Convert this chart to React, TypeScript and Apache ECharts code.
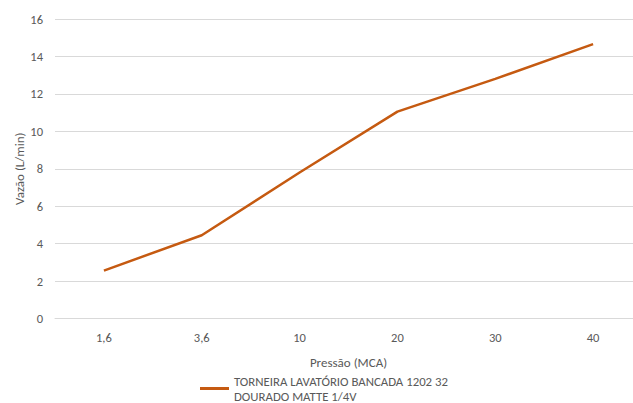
import React, { useEffect, useRef } from "react";
import * as echarts from "echarts";

const categories = ["1,6", "3,6", "10", "20", "30", "40"];
const flowValues = [2.56, 4.45, 7.8, 11.05, 12.8, 14.66];
const seriesName = "TORNEIRA LAVATÓRIO BANCADA 1202 32\nDOURADO MATTE 1/4V";
const yTitle = "Vazão (L/min)";
const xTitle = "Pressão (MCA)";

const FONT = "Carlito, 'Liberation Sans Narrow', 'Liberation Sans', sans-serif";
const GRAY = "#595959";

export default function App() {
  const ref = useRef<HTMLDivElement>(null);
  useEffect(() => {
    document.body.style.margin = "0";
    const chart = echarts.init(ref.current!, undefined, { renderer: "svg" });
    chart.setOption({
      animation: false,
      backgroundColor: "#ffffff",
      grid: { left: 55, right: 0, top: 19, bottom: 84.5, containLabel: false },
      legend: {
        left: 200,
        top: 366,
        padding: 0,
        icon: "rect",
        itemWidth: 29,
        itemHeight: 3,
        data: [seriesName],
        textStyle: {
          color: GRAY,
          fontSize: 12.8,
          fontFamily: FONT,
          lineHeight: 15,
          padding: [15, 0, 0, 0],
        },
      },
      xAxis: {
        type: "category",
        data: categories,
        boundaryGap: true,
        name: xTitle,
        nameLocation: "middle",
        nameGap: 37,
        nameMoveOverlap: false,
        nameTextStyle: { color: GRAY, fontSize: 13, fontFamily: FONT },
        axisTick: { show: false },
        axisLine: { show: true, lineStyle: { color: "#d9d9d9", width: 1 } },
        axisLabel: { color: GRAY, fontSize: 12.5, fontFamily: FONT, margin: 12 },
      },
      yAxis: {
        type: "value",
        min: 0,
        max: 16,
        interval: 2,
        name: yTitle,
        nameLocation: "middle",
        nameGap: 29,
        nameMoveOverlap: false,
        nameTextStyle: { color: GRAY, fontSize: 13, fontFamily: FONT },
        axisLine: { show: false },
        axisTick: { show: false },
        axisLabel: { color: GRAY, fontSize: 12.5, fontFamily: FONT, margin: 12 },
        splitLine: { lineStyle: { color: "#d9d9d9", width: 1 } },
      },
      series: [
        {
          name: seriesName,
          type: "line",
          data: flowValues,
          symbol: "none",
          lineStyle: { color: "#C55A11", width: 2.5 },
          itemStyle: { color: "#C55A11" },
        },
      ],
    });
    return () => chart.dispose();
  }, []);
  return (
    <div style={{ width: 633, height: 403, overflow: "hidden", position: "relative" }}>
      <div ref={ref} style={{ width: 642, height: 403 }} />
    </div>
  );
}
